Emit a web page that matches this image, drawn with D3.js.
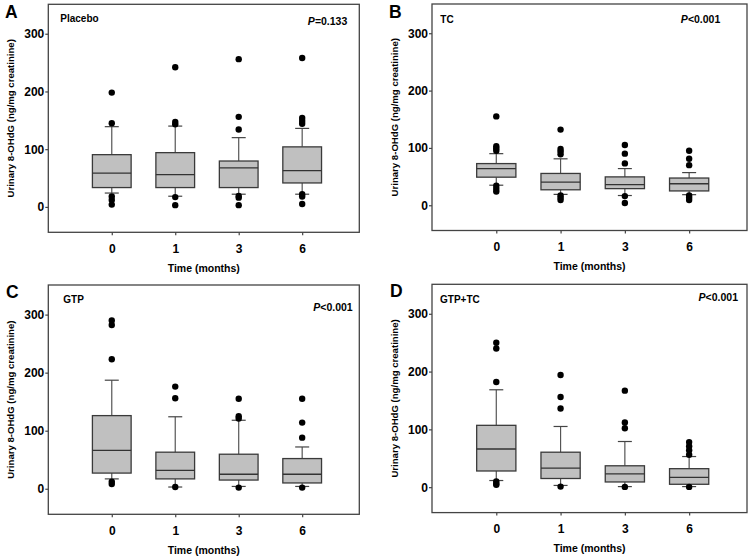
<!DOCTYPE html>
<html>
<head>
<meta charset="utf-8">
<script src="https://cdn.jsdelivr.net/npm/d3@7"></script>
<style>
  html, body { margin: 0; padding: 0; background: #fff; }
  svg { display: block; }
  text { font-family: "Liberation Sans", Arial, sans-serif; font-weight: bold; fill: #000; }
</style>
</head>
<body>
<svg id="chart" width="754" height="560"></svg>
<script>
// ---------------- DATA ----------------
const categories = ["0", "1", "3", "6"];
const yTicks = [0, 100, 200, 300];
const panelLetters = ["A", "B", "C", "D"];
const groupNames = ["Placebo", "TC", "GTP", "GTP+TC"];
const pValues = ["=0.133", "<0.001", "<0.001", "<0.001"];
const xTitle = "Time (months)";
const yTitle = "Urinary 8-OHdG (ng/mg creatinine)";

// each box: [lower whisker, Q1, median, Q3, upper whisker]
const placeboBoxes = [[24, 33.5, 58.5, 90.5, 139], [18.5, 33.5, 56, 94, 140], [22, 33.5, 67.5, 79.5, 120], [22, 41.5, 63, 104, 136]];
const placeboOutliers = [[198, 145, 18, 12, 4], [242, 147, 143, 17, 3], [256, 156, 134, 19, 16, 3], [258, 154, 149, 144, 22, 18, 5]];

const tcBoxes = [[35, 49, 64, 72.7, 90], [19, 27, 40.5, 55.5, 81], [17, 29, 36, 49.5, 64], [18.5, 25, 37.5, 47.5, 57]];
const tcOutliers = [[155, 103, 99, 95, 34, 29, 24], [132, 98, 94, 89, 17, 13, 9], [105, 90, 73, 16, 4], [95, 81, 70, 17, 13, 9]];

const gtpBoxes = [[17, 27, 66, 126, 187], [3, 17, 31.5, 63, 124], [4, 15, 25, 59.5, 118], [4, 10, 25, 52, 72]];
const gtpOutliers = [[290, 282, 223, 12, 8], [176, 156, 3], [155, 125, 121, 2], [155, 114, 88, 2]];

const gtpTcBoxes = [[11.5, 28, 66, 107, 168.5], [3, 15, 33, 60.5, 105], [1, 9, 23, 37, 79], [1, 5, 17, 32, 53]];
const gtpTcOutliers = [[250, 240, 182, 10, 6, 4], [194, 156, 136, 1], [167, 112, 102, 0.5], [78, 71, 64, 56, 0.5]];

const allBoxes = [placeboBoxes, tcBoxes, gtpBoxes, gtpTcBoxes];
const allOutliers = [placeboOutliers, tcOutliers, gtpOutliers, gtpTcOutliers];

// ---------------- LAYOUT ----------------
const layout = [
  { left: 48.3, right: 359.3, top: 4.3, bottom: 232.3, letter: [5, 17.7], group: [60.3, 22], p: [347.3, 25] },
  { left: 432, right: 747, top: 4, bottom: 230.5, letter: [389, 17.5], group: [440.3, 22.7], p: [720.3, 22.7] },
  { left: 48.3, right: 359.3, top: 285, bottom: 514.3, letter: [6, 298], group: [63.3, 302.7], p: [352.7, 311] },
  { left: 432, right: 747, top: 284.3, bottom: 512.6, letter: [390, 297], group: [440, 302.7], p: [738, 300.7] }
];

const svg = d3.select("#chart");

layout.forEach((L, i) => {
  const g = svg.append("g");
  const x = d3.scaleLinear().domain([-1, 3.9]).range([L.left, L.right]);
  const y = d3.scaleLinear().domain([-44, 351]).range([L.bottom, L.top]);
  const xPos = d => x(categories.indexOf(d));
  const unit = x(1) - x(0);
  const boxW = unit * 0.61;
  const capW = 14;

  // axes
  const yAxis = d3.axisLeft(y).tickValues(yTicks).tickSize(3).tickPadding(1).tickSizeOuter(0);
  const yg = g.append("g").attr("transform", `translate(${L.left},0)`).call(yAxis);
  const xAxis = d3.axisBottom(x).tickValues(categories.map((c, k) => k))
    .tickFormat(k => categories[k]).tickSize(3).tickPadding(9).tickSizeOuter(0);
  const xg = g.append("g").attr("transform", `translate(0,${L.bottom})`).call(xAxis);
  [yg, xg].forEach(a => {
    a.select(".domain").remove();
    a.selectAll(".tick line").attr("stroke", "#444").attr("stroke-width", 1.2);
    a.selectAll(".tick text").style("font-size", "12px").style("font-family", "'Liberation Sans', Arial, sans-serif").style("font-weight", "bold").attr("fill", "#000");
  });

  // frame
  g.append("rect")
    .attr("x", L.left).attr("y", L.top)
    .attr("width", L.right - L.left).attr("height", L.bottom - L.top)
    .attr("fill", "none").attr("stroke", "#444").attr("stroke-width", 1.3);

  // boxes
  const boxes = allBoxes[i];
  boxes.forEach((b, k) => {
    const cx = xPos(categories[k]);
    const [lo, q1, med, q3, hi] = b;
    const wg = g.append("g");
    wg.append("line").attr("x1", cx).attr("x2", cx).attr("y1", y(q3)).attr("y2", y(hi))
      .attr("stroke", "#555").attr("stroke-width", 1.2);
    wg.append("line").attr("x1", cx).attr("x2", cx).attr("y1", y(q1)).attr("y2", y(lo))
      .attr("stroke", "#555").attr("stroke-width", 1.2);
    wg.append("line").attr("x1", cx - capW / 2).attr("x2", cx + capW / 2).attr("y1", y(hi)).attr("y2", y(hi))
      .attr("stroke", "#444").attr("stroke-width", 1.2);
    wg.append("line").attr("x1", cx - capW / 2).attr("x2", cx + capW / 2).attr("y1", y(lo)).attr("y2", y(lo))
      .attr("stroke", "#444").attr("stroke-width", 1.2);
    wg.append("rect").attr("x", cx - boxW / 2).attr("y", y(q3))
      .attr("width", boxW).attr("height", y(q1) - y(q3))
      .attr("fill", "#c0c0c0").attr("stroke", "#3a3a3a").attr("stroke-width", 1.3);
    wg.append("line").attr("x1", cx - boxW / 2).attr("x2", cx + boxW / 2).attr("y1", y(med)).attr("y2", y(med))
      .attr("stroke", "#333").attr("stroke-width", 1.3);
  });

  // outliers
  allOutliers[i].forEach((arr, k) => {
    const cx = xPos(categories[k]);
    g.selectAll(null).data(arr).enter().append("circle")
      .attr("cx", cx).attr("cy", d => y(d)).attr("r", 3.2).attr("fill", "#000");
  });

  // texts
  g.append("text").attr("x", L.letter[0]).attr("y", L.letter[1])
    .style("font-size", "17.5px").text(panelLetters[i]);
  g.append("text").attr("x", L.group[0]).attr("y", L.group[1]).style("font-size", "10px").text(groupNames[i]);
  const pt = g.append("text").attr("x", L.p[0]).attr("y", L.p[1]).attr("text-anchor", "end").style("font-size", "10.5px");
  pt.append("tspan").style("font-style", "italic").text("P");
  pt.append("tspan").text(pValues[i]);

  g.append("text")
    .attr("transform", `translate(${L.left - 34},${(L.top + L.bottom) / 2}) rotate(-90)`)
    .attr("text-anchor", "middle").style("font-size", "9.6px").text(yTitle);
  g.append("text").attr("x", (L.left + L.right) / 2).attr("y", L.bottom + 39.5)
    .attr("text-anchor", "middle").style("font-size", "10.5px").text(xTitle);
});
</script>
</body>
</html>
